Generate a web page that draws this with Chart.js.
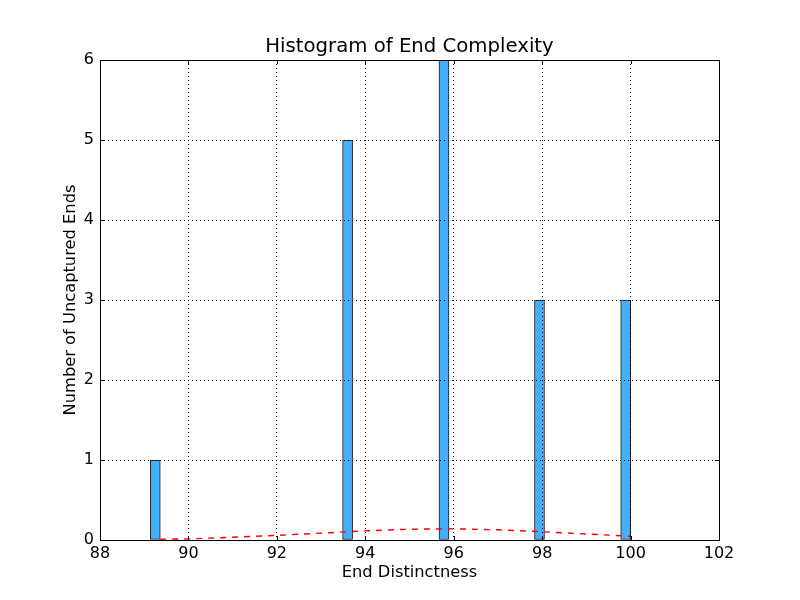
<!DOCTYPE html>
<html>
<head>
<meta charset="utf-8">
<script src="https://cdn.jsdelivr.net/npm/chart.js@4/dist/chart.umd.min.js"></script>
<style>
  html, body { margin: 0; padding: 0; background: #fff; }
  #wrap { width: 800px; height: 600px; }
</style>
</head>
<body>
<div id="wrap"><canvas id="chart" width="800" height="600"></canvas></div>
<script>
// bin centres and counts
const binCenters = [89.25, 93.6, 95.78, 97.94, 99.89];
const binCounts = [1, 5, 6, 3, 3];

// dashed fitted curve, read point by point
const curveX = [89.36, 90, 91, 92, 93, 94, 95, 96, 97, 98, 99, 100];
const curveY = [0.01, 0.014, 0.034, 0.058, 0.086, 0.114, 0.135, 0.14, 0.128, 0.103, 0.075, 0.048];

const xTicks = [88, 90, 92, 94, 96, 98, 100, 102];
const yTicks = [0, 1, 2, 3, 4, 5, 6];

const titleText = "Histogram of End Complexity";
const FONT = "'DejaVu Sans', sans-serif";

// box round the plot, inward tick marks and the title centred on the plot
const frame = {
    id: "frame",
    afterDraw(chart) {
        const { ctx, chartArea: a, scales } = chart;
        ctx.save();
        ctx.strokeStyle = "#000";
        ctx.lineWidth = 1;
        ctx.beginPath();
        xTicks.forEach(v => {
            const px = Math.round(scales.x.getPixelForValue(v)) + 0.5;
            ctx.moveTo(px, a.bottom); ctx.lineTo(px, a.bottom - 4);
            ctx.moveTo(px, a.top); ctx.lineTo(px, a.top + 4);
        });
        yTicks.forEach(v => {
            const py = Math.round(scales.y.getPixelForValue(v)) + 0.5;
            ctx.moveTo(a.left, py); ctx.lineTo(a.left + 4, py);
            ctx.moveTo(a.right, py); ctx.lineTo(a.right - 4, py);
        });
        ctx.stroke();
        ctx.strokeRect(Math.round(a.left) + 0.5, Math.round(a.top) + 0.5,
            Math.round(a.right - a.left), Math.round(a.bottom - a.top));

        ctx.fillStyle = "#000";
        ctx.font = "19.7px " + FONT;
        ctx.textAlign = "center";
        ctx.textBaseline = "middle";
        ctx.fillText(titleText, (a.left + a.right) / 2, 47);
        ctx.restore();
    }
};

new Chart(document.getElementById("chart"), {
    type: "bar",
    data: {
        datasets: [
            {
                type: "line",
                data: curveX.map((x, i) => ({ x: x, y: curveY[i] })),
                borderColor: "#ff0000",
                borderWidth: 1.4,
                borderDash: [6, 6],
                pointRadius: 0,
                fill: false,
                order: 0
            },
            {
                type: "bar",
                data: binCenters.map((x, i) => ({ x: x, y: binCounts[i] })),
                backgroundColor: "#42b0ff",
                borderColor: "#1a1a1a",
                borderWidth: 1,
                borderSkipped: false,
                barThickness: 10,
                order: 1
            }
        ]
    },
    options: {
        responsive: false,
        animation: false,
        layout: { padding: { left: 0, right: 81, top: 60, bottom: 0 } },
        plugins: {
            legend: { display: false },
            tooltip: { enabled: false },
            title: { display: false }
        },
        scales: {
            x: {
                type: "linear",
                min: 88,
                max: 102,
                offset: false,
                afterBuildTicks: s => { s.ticks = xTicks.map(v => ({ value: v })); },
                afterFit: s => { s.height = 60; },
                grid: { offset: false, color: "#000", drawTicks: false, z: 1 },
                border: { display: false, dash: [1, 3] },
                ticks: { color: "#000", padding: 4, font: { family: FONT, size: 16 } },
                title: {
                    display: true,
                    text: "End Distinctness",
                    color: "#000",
                    font: { family: FONT, size: 16.3 },
                    padding: { top: 0, bottom: 17 }
                }
            },
            y: {
                min: 0,
                max: 6,
                afterBuildTicks: s => { s.ticks = yTicks.map(v => ({ value: v })); },
                afterFit: s => { s.width = 100; },
                grid: { color: "#000", drawTicks: false, z: 1 },
                border: { display: false, dash: [1, 3] },
                ticks: { color: "#000", padding: 6, font: { family: FONT, size: 16 } },
                title: {
                    display: true,
                    text: "Number of Uncaptured Ends",
                    color: "#000",
                    font: { family: FONT, size: 16.3 },
                    padding: { top: 61, bottom: 0 }
                }
            }
        }
    },
    plugins: [frame]
});
</script>
</body>
</html>
